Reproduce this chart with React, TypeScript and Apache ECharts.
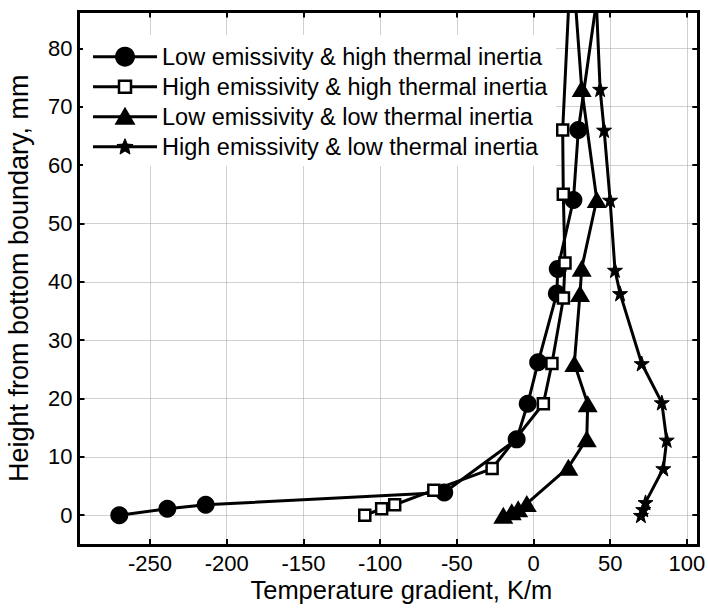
import React, { useEffect, useRef } from "react";
import * as echarts from "echarts";

// ---- data (temperature gradient K/m, height mm) ----
const seriesNames = [
  "Low emissivity & high thermal inertia",
  "High emissivity & high thermal inertia",
  "Low emissivity & low thermal inertia",
  "High emissivity & low thermal inertia",
];

const lowEmisHighInertiaX = [-270, -238.7, -213.7, -58.2, -11, -3.8, 3, 15.2, 15.8, 26, 29.2, 42.1];
const lowEmisHighInertiaY = [0, 1.1, 1.8, 3.9, 13, 19.1, 26.2, 38, 42.2, 54, 66, 90];

const highEmisHighInertiaX = [-110, -99, -90.5, -65, -27, 6.4, 12, 19.5, 20.5, 19.4, 19, 23.4];
const highEmisHighInertiaY = [0, 1.1, 1.8, 4.3, 8, 19.1, 26, 37.2, 43.2, 55, 66, 90];

const lowEmisLowInertiaX = [-19.7, -14.2, -10, -4.4, 22.7, 34.7, 35.3, 26.6, 30.3, 31.4, 41.2, 31.4, 26.7];
const lowEmisLowInertiaY = [0, 0.6, 1.1, 2, 8.2, 13.1, 19.1, 26, 38, 42.3, 54.1, 73.1, 90];

const highEmisLowInertiaX = [70, 71.5, 73, 84.6, 86.8, 83.6, 70.5, 56.4, 53.1, 49.9, 46, 43.4, 40.6];
const highEmisLowInertiaY = [0, 1, 2.2, 8, 12.9, 19.3, 26, 38, 42, 54, 66, 73, 90];

const xRange = [-296.6, 107.4];
const yRange = [-5.1, 86.3];
const xStep = 50;
const yStep = 10;
const xTitle = "Temperature gradient, K/m";
const yTitle = "Height from bottom boundary, mm";

const FONT = "'Liberation Sans', Arial, sans-serif";
const STAR_PATH =
  "path://M50,0 L61.8,35.1 L98,35.1 L68.9,56.7 L79.4,92 L50,70.5 L20.6,92 L31.1,56.7 L2,35.1 L38.2,35.1 Z";

function pairs(xs: number[], ys: number[]) {
  return xs.map((x, i) => [x, ys[i]]);
}

function starPoints(cx: number, cy: number, R: number) {
  const pts: number[][] = [];
  for (let k = 0; k < 10; k++) {
    const a = ((-90 + 36 * k) * Math.PI) / 180;
    const r = k % 2 === 0 ? R : R * 0.45;
    pts.push([cx + r * Math.cos(a), cy + r * Math.sin(a)]);
  }
  return pts;
}

function legendGraphics() {
  const els: any[] = [];
  const left = 83;
  const top = 35;
  els.push({
    type: "rect",
    shape: { x: left, y: top, width: 473, height: 131 },
    style: { fill: "#fff" },
    z: 100,
    silent: true,
  });
  const x0 = 93;
  const x1 = 157;
  const mx = (x0 + x1) / 2;
  seriesNames.forEach((name, i) => {
    const cy = 56.7 + 30 * i;
    els.push({
      type: "line",
      shape: { x1: x0, y1: cy, x2: x1, y2: cy },
      style: { stroke: "#000", lineWidth: 3 },
      z: 101,
      silent: true,
    });
    if (i === 0) {
      els.push({ type: "circle", shape: { cx: mx, cy, r: 10 }, style: { fill: "#000" }, z: 102, silent: true });
    } else if (i === 1) {
      els.push({
        type: "rect",
        shape: { x: mx - 6, y: cy - 6, width: 12, height: 12 },
        style: { fill: "#fff", stroke: "#000", lineWidth: 2.5 },
        z: 102,
        silent: true,
      });
    } else if (i === 2) {
      els.push({
        type: "polygon",
        shape: { points: [[mx, cy - 10], [mx + 10.5, cy + 8], [mx - 10.5, cy + 8]] },
        style: { fill: "#000" },
        z: 102,
        silent: true,
      });
    } else {
      els.push({
        type: "polygon",
        shape: { points: starPoints(mx, cy + 0.5, 8.5) },
        style: { fill: "#000", stroke: "#000", lineWidth: 1 },
        z: 102,
        silent: true,
      });
    }
    els.push({
      type: "text",
      x: 162,
      y: cy,
      style: {
        text: name,
        fill: "#000",
        font: `23.5px ${FONT}`,
        fontSize: 23.5,
        fontFamily: FONT,
        verticalAlign: "middle",
        align: "left",
      },
      z: 102,
      silent: true,
    });
  });
  return els;
}

export default function App() {
  const ref = useRef<HTMLDivElement>(null);
  useEffect(() => {
    if (!ref.current) return;
    const chart = echarts.init(ref.current, undefined, { renderer: "svg" });
    const axisLine = { onZero: false, lineStyle: { color: "#000", width: 3, cap: "square" } };
    const axisTick = { inside: true, length: 6, lineStyle: { color: "#000", width: 2 } };
    const splitLine = { show: true, lineStyle: { color: "#a0a0a0", type: "dotted", width: 1 } };
    const xCommon = {
      type: "value",
      min: xRange[0],
      max: xRange[1],
      splitNumber: 8,
      minInterval: xStep,
      maxInterval: xStep,
      axisLine,
      axisTick,
    };
    const yCommon = {
      type: "value",
      min: yRange[0],
      max: yRange[1],
      splitNumber: 9,
      minInterval: yStep,
      maxInterval: yStep,
      axisLine,
      axisTick,
    };
    const mk = (name: string, xs: number[], ys: number[], extra: any) => ({
      type: "line",
      name,
      data: pairs(xs, ys),
      xAxisIndex: 0,
      yAxisIndex: 0,
      clip: true,
      lineStyle: { color: "#000", width: 3 },
      itemStyle: { color: "#000" },
      emphasis: { disabled: true },
      ...extra,
    });
    chart.setOption({
      animation: false,
      backgroundColor: "#fff",
      textStyle: { fontFamily: FONT },
      grid: { left: 78.5, right: 9.7, top: 11.5, bottom: 65, containLabel: false, outerBoundsMode: "none" },
      xAxis: [
        {
          ...xCommon,
          position: "bottom",
          splitLine,
          axisLabel: {
            color: "#000",
            fontSize: 22,
            lineHeight: 18,
            margin: 9.5,
            fontFamily: FONT,
            showMinLabel: false,
            showMaxLabel: false,
          },
          name: xTitle,
          nameLocation: "middle",
          nameGap: 32.5,
          nameMoveOverlap: false,
          nameTextStyle: { color: "#000", fontSize: 25.5, lineHeight: 25, fontFamily: FONT, padding: [0, 0, 0, 26] },
        },
        {
          ...xCommon,
          position: "top",
          splitLine: { show: false },
          axisLabel: { show: false },
        },
      ],
      yAxis: [
        {
          ...yCommon,
          position: "left",
          splitLine,
          axisLabel: { color: "#000", fontSize: 22, margin: 6, fontFamily: FONT, showMinLabel: false, showMaxLabel: false },
          name: yTitle,
          nameLocation: "middle",
          nameGap: 46,
          nameRotate: 90,
          nameMoveOverlap: false,
          nameTextStyle: { color: "#000", fontSize: 27, fontFamily: FONT },
        },
        {
          ...yCommon,
          position: "right",
          splitLine: { show: false },
          axisLabel: { show: false },
        },
      ],
      series: [
        mk(seriesNames[0], lowEmisHighInertiaX, lowEmisHighInertiaY, { symbol: "circle", symbolSize: 18 }),
        mk(seriesNames[1], highEmisHighInertiaX, highEmisHighInertiaY, {
          symbol: "rect",
          symbolSize: 11,
          itemStyle: { color: "#fff", borderColor: "#000", borderWidth: 2.5 },
        }),
        mk(seriesNames[2], lowEmisLowInertiaX, lowEmisLowInertiaY, { symbol: "triangle", symbolSize: [20, 17] }),
        mk(seriesNames[3], highEmisLowInertiaX, highEmisLowInertiaY, {
          symbol: STAR_PATH,
          symbolSize: 15,
          itemStyle: { color: "#000", borderColor: "#000", borderWidth: 1 },
        }),
      ],
      graphic: legendGraphics(),
    });
    return () => chart.dispose();
  }, []);
  return (
    <div
      ref={ref}
      style={{ position: "absolute", left: 0, top: 0, width: 708, height: 610, background: "#fff" }}
    />
  );
}
